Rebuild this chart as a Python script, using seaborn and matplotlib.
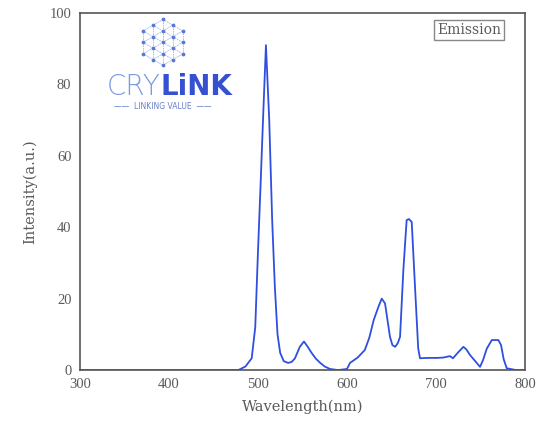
import numpy as np
import pandas as pd
import matplotlib
matplotlib.use("Agg")
import matplotlib.pyplot as plt
import seaborn as sns

# emission spectrum
wavelength = [300, 478, 486, 493, 497, 500, 503, 506, 509, 512.7, 516, 519, 522, 525,
              529, 534, 538, 541.6, 547, 551.7, 556, 560.3, 565, 570, 575, 581, 590,
              600, 603.4, 612, 620, 625, 630, 635, 639, 642.7, 645.5, 648.3, 651, 654,
              657, 659.6, 663.3, 667, 669.5, 672.7, 676.4, 680, 682, 690, 700.8, 708,
              715.7, 719, 725, 730.7, 734, 738.2, 744, 749.4, 752.8, 757, 762.6, 770,
              773, 776, 779.4, 790, 800]
intensity = [0, 0, 1, 3.3, 12, 32.8, 52, 72, 91, 70, 42, 23.3, 10, 4.8,
             2.5, 2, 2.3, 3.3, 6.5, 8, 6.5, 4.8, 3.2, 2, 1, 0.3, 0,
             0.3, 2, 3.5, 5.6, 9, 14, 17.5, 20, 18.7, 14, 9.3, 7, 6.5,
             7.5, 9.3, 28, 42, 42.3, 41.5, 23.3, 6, 3.3, 3.4, 3.4, 3.5,
             3.9, 3.3, 5, 6.5, 5.8, 4.2, 2.5, 0.9, 2.8, 6, 8.4, 8.4,
             7, 3, 0.5, 0, 0]

x_ticks = [300, 400, 500, 600, 700, 800]
y_ticks = [0, 20, 40, 60, 80, 100]

df = pd.DataFrame({"Wavelength": wavelength, "Intensity": intensity})

sns.set_style("white")
text_col = "#5a5a5a"
spine_col = "#555555"

fig = plt.figure(figsize=(5.43, 4.21), dpi=100)
ax = fig.add_axes([0.147, 0.121, 0.820, 0.848])

sns.lineplot(data=df, x="Wavelength", y="Intensity", ax=ax, color="#2f4fe0",
             linewidth=1.3, sort=False, zorder=3)

ax.set_xlim(300, 800)
ax.set_ylim(0, 100)
ax.set_xticks(x_ticks)
ax.set_yticks(y_ticks)
ax.set_xticks([350, 450, 550, 650, 750], minor=True)
ax.set_yticks([10, 30, 50, 70, 90], minor=True)
ax.tick_params(which="major", direction="in", length=5, width=1, color=spine_col,
               labelsize=10.5, labelcolor=text_col, pad=6)
ax.tick_params(which="minor", direction="in", length=3, width=1, color=spine_col)
for lab in ax.get_xticklabels() + ax.get_yticklabels():
    lab.set_family("Liberation Serif")

for s in ax.spines.values():
    s.set_color(spine_col)
    s.set_linewidth(1.2)

ax.set_xlabel("Wavelength(nm)", family="DejaVu Serif", fontsize=10.5, color=text_col, labelpad=6)
ax.set_ylabel("Intensity(a.u.)", family="DejaVu Serif", fontsize=10.5, color=text_col, labelpad=9)

ax.text(0.874, 0.952, "Emission", transform=ax.transAxes, ha="center", va="center",
        family="DejaVu Serif", fontsize=10, color=text_col,
        bbox=dict(boxstyle="square,pad=0.2", facecolor="white", edgecolor="#888888", linewidth=1))

# watermark logo: triangular lattice hexagon
logo = fig.add_axes([0.2486, 0.834, 0.103, 0.1306])
logo.set_xlim(-1.2, 1.2)
logo.set_ylim(-1.2, 1.2)
logo.set_aspect("equal")
logo.axis("off")
logo.patch.set_alpha(0)
u = np.array([0.0, 1.0]) * 0.5
v = np.array([np.cos(np.pi / 6), np.sin(np.pi / 6)]) * 0.5
pts = []
for i in range(-2, 3):
    for j in range(-2, 3):
        if abs(i + j) <= 2:
            pts.append(i * u + j * v)
pts = np.array(pts)
for a in range(len(pts)):
    for b in range(a + 1, len(pts)):
        if abs(np.linalg.norm(pts[a] - pts[b]) - 0.5) < 1e-6:
            logo.plot([pts[a][0], pts[b][0]], [pts[a][1], pts[b][1]],
                      color="#9db4ec", linewidth=0.6, linestyle=(0, (2, 1)))
logo.scatter(pts[:, 0], pts[:, 1], s=3, color="#5b78d4", zorder=3)

fig.text(0.296, 0.774, "CRY", ha="right", va="baseline", fontsize=20, fontweight="light",
         color="#7c9be2", family="DejaVu Sans")
fig.text(0.296, 0.774, "LiNK", ha="left", va="baseline", fontsize=20, fontweight="bold",
         color="#3550d0", family="DejaVu Sans")
fig.text(0.300, 0.748, "\u2014\u2014  LINKING VALUE  \u2014\u2014", ha="center", va="center",
         fontsize=5.5, color="#6680c8", family="DejaVu Sans")

fig.savefig("out.png", dpi=100)
